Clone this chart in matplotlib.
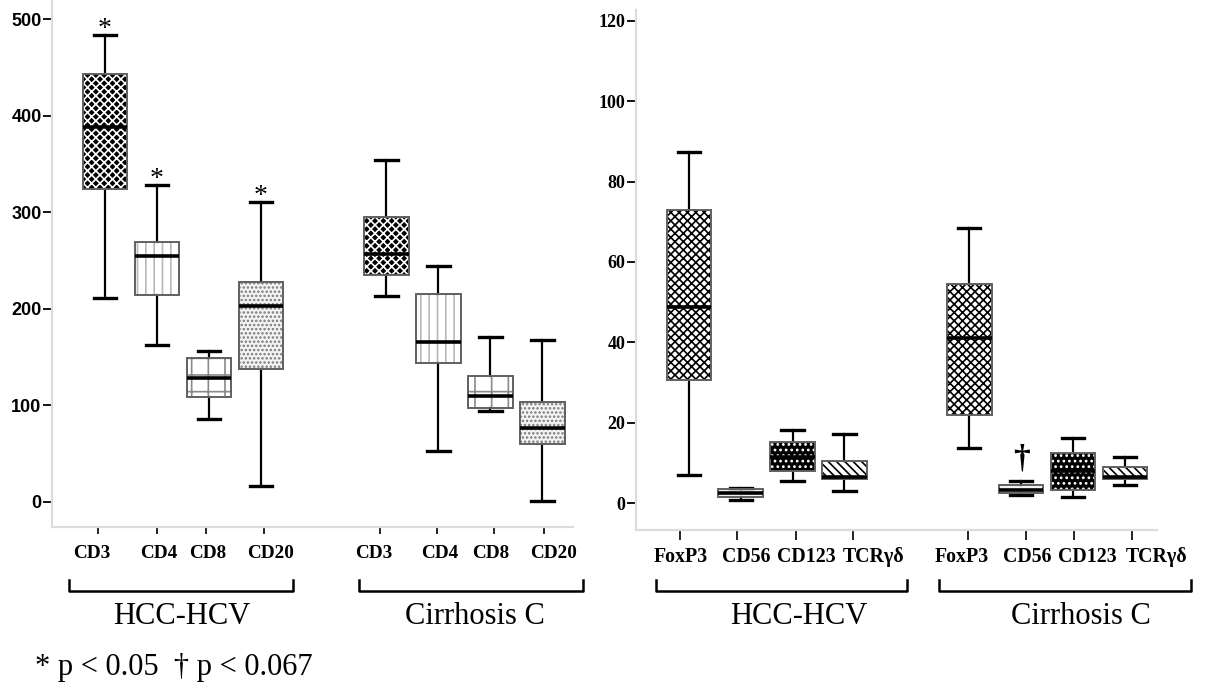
"""Box plots of infiltrating lymphocyte subsets, HCC-HCV vs cirrhosis C."""
import matplotlib
matplotlib.use("Agg")
import matplotlib.pyplot as plt
import matplotlib.transforms as mtransforms
from matplotlib.lines import Line2D
from matplotlib.patches import PathPatch

GROUPS = ["HCC-HCV", "Cirrhosis C"]

# ---- left panel: CD3 / CD4 / CD8 / CD20 ----
LEFT_MARKERS = ["CD3", "CD4", "CD8", "CD20"]
LEFT_HCC_LO = [211, 163, 86, 16]
LEFT_HCC_Q1 = [324, 214, 109, 138]
LEFT_HCC_MED = [388, 255, 128, 203]
LEFT_HCC_Q3 = [443, 269, 149, 228]
LEFT_HCC_HI = [484, 328, 156, 311]
LEFT_CIR_LO = [213, 53, 94, 1]
LEFT_CIR_Q1 = [235, 144, 97, 60]
LEFT_CIR_MED = [257, 166, 110, 77]
LEFT_CIR_Q3 = [295, 215, 130, 104]
LEFT_CIR_HI = [354, 244, 171, 168]
LEFT_HCC_SIG = ["*", "*", "", "*"]
LEFT_CIR_SIG = ["", "", "", ""]

# ---- right panel: FoxP3 / CD56 / CD123 / TCRgd ----
RIGHT_MARKERS = ["FoxP3", "CD56", "CD123", "TCRγδ"]
RIGHT_HCC_LO = [7.1, 0.8, 5.5, 3.0]
RIGHT_HCC_Q1 = [30.6, 1.4, 7.9, 6.1]
RIGHT_HCC_MED = [48.8, 2.4, 11.5, 6.4]
RIGHT_HCC_Q3 = [72.9, 3.5, 15.2, 10.5]
RIGHT_HCC_HI = [87.4, 3.7, 18.3, 17.1]
RIGHT_CIR_LO = [13.6, 1.9, 1.4, 4.4]
RIGHT_CIR_Q1 = [21.9, 2.4, 3.2, 6.1]
RIGHT_CIR_MED = [41.2, 3.2, 8.0, 6.5]
RIGHT_CIR_Q3 = [54.4, 4.5, 12.4, 9.0]
RIGHT_CIR_HI = [68.5, 5.5, 16.1, 11.4]
RIGHT_HCC_SIG = ["", "", "", ""]
RIGHT_CIR_SIG = ["", "†", "", ""]

FOOTNOTE = "* p < 0.05  † p < 0.067"

# fill styles per marker (face, hatch, hatch colour)
LEFT_FILLS = [("black", "xxxx", "white"), ("white", "||", "#b8b8b8"),
              ("white", "+", "#8a8a8a"), ("#f4f4f4", "....", "#7a7a7a")]
RIGHT_FILLS = [("white", "xxxx", "black"), ("#f2f2f2", "", "#f2f2f2"),
               ("black", "...", "white"), ("white", "\\\\\\\\", "black")]

SERIF = ["Liberation Serif", "DejaVu Serif"]
POS_A = [0, 1, 2, 3]
POS_B = [5.41, 6.41, 7.41, 8.41]


def stats(lo, q1, med, q3, hi):
    return [dict(whislo=a, q1=b, med=c, q3=d, whishi=e, fliers=[])
            for a, b, c, d, e in zip(lo, q1, med, q3, hi)]


def draw_group(ax, st, pos, fills, sig, sig_off, sig_size):
    bp = ax.bxp(st, positions=pos, widths=0.86, patch_artist=True,
                showfliers=False, manage_ticks=False,
                whiskerprops=dict(color="black", lw=1.6),
                capprops=dict(color="black", lw=2.4),
                medianprops=dict(color="black", lw=2.6, solid_capstyle="butt"))
    for box, (face, hatch, hcol) in zip(bp["boxes"], fills):
        box.set_facecolor(face)
        box.set_edgecolor(hcol)
        box.set_linewidth(0)
        if hatch:
            box.set_hatch(hatch)
            if hasattr(box, "set_hatch_linewidth"):
                box.set_hatch_linewidth(1.2)
        ax.add_patch(PathPatch(box.get_path(), fill=False, edgecolor="#606060",
                               lw=1.4, zorder=box.get_zorder() + 0.1))
    for med in bp["medians"]:
        med.set_zorder(3)
    for p, s, hi in zip(pos, sig, [d["whishi"] for d in st]):
        if s:
            ax.annotate(s, (p, hi), xytext=(0, sig_off), textcoords="offset points",
                        ha="center", va="center", fontsize=sig_size, family=SERIF,
                        fontweight="bold" if s == "†" else "normal")


def style_axes(ax, ticks, label_pos, labels, xfs, ylim, yticks, yfont, tick_len, pad):
    for side in ("top", "right"):
        ax.spines[side].set_visible(False)
    for side in ("left", "bottom"):
        ax.spines[side].set_color("#dcdcdc")
        ax.spines[side].set_linewidth(1.6)
    ax.set_ylim(*ylim)
    ax.set_yticks(yticks)
    # tick marks and their labels sit at slightly different x in the original
    ax.set_xticks(ticks)
    ax.set_xticklabels([])
    ax.set_xticks(label_pos, minor=True)
    ax.set_xticklabels(labels, minor=True, family=SERIF, fontweight="bold", fontsize=xfs)
    ax.tick_params(axis="x", which="major", length=tick_len, width=1.2, color="black")
    ax.tick_params(axis="x", which="minor", length=0, pad=pad)
    ax.tick_params(axis="y", length=6.5, width=1.3, color="black", pad=1)
    for t in ax.get_yticklabels():
        t.set_family(yfont)
        t.set_fontweight("bold")
        t.set_fontsize(13)


def brackets(fig, ax, spans, label_x):
    tr = mtransforms.blended_transform_factory(ax.transData, fig.transFigure)
    y0, y1 = 1 - 591 / 689, 1 - 580 / 689
    for (a, b), lx, name in zip(spans, label_x, GROUPS):
        ax.add_line(Line2D([a, a, b, b], [y1, y0, y0, y1], transform=tr,
                           color="black", lw=1.8, clip_on=False))
        ax.text(lx, 1 - 617 / 689, name, transform=tr, ha="center", va="center",
                fontsize=22, family=SERIF, clip_on=False)


fig = plt.figure(figsize=(12.05, 6.89), dpi=100)
ax_l = fig.add_axes([52 / 1205, 162 / 689, 521 / 1205, 527 / 689])
ax_r = fig.add_axes([636 / 1205, 159 / 689, 521 / 1205, 520 / 689])

# left panel
draw_group(ax_l, stats(LEFT_HCC_LO, LEFT_HCC_Q1, LEFT_HCC_MED, LEFT_HCC_Q3, LEFT_HCC_HI),
           POS_A, LEFT_FILLS, LEFT_HCC_SIG, 4, 20)
draw_group(ax_l, stats(LEFT_CIR_LO, LEFT_CIR_Q1, LEFT_CIR_MED, LEFT_CIR_Q3, LEFT_CIR_HI),
           POS_B, LEFT_FILLS, LEFT_CIR_SIG, 4, 20)
ax_l.set_xlim(-1.02, 9.0)
style_axes(ax_l, [-0.14, 1.0, 1.94, 3.05, 5.28, 6.39, 7.49, 8.44],
           [-0.26, 1.04, 1.98, 3.19, 5.16, 6.44, 7.41, 8.62],
           LEFT_MARKERS * 2, 13.8, (-26, 520), [0, 100, 200, 300, 400, 500],
           ["Liberation Sans", "DejaVu Sans"], 5, 13)
brackets(fig, ax_l, [(-0.69, 3.62), (4.88, 9.19)], [1.48, 7.12])

# right panel
draw_group(ax_r, stats(RIGHT_HCC_LO, RIGHT_HCC_Q1, RIGHT_HCC_MED, RIGHT_HCC_Q3, RIGHT_HCC_HI),
           POS_A, RIGHT_FILLS, RIGHT_HCC_SIG, 16, 24)
draw_group(ax_r, stats(RIGHT_CIR_LO, RIGHT_CIR_Q1, RIGHT_CIR_MED, RIGHT_CIR_Q3, RIGHT_CIR_HI),
           POS_B, RIGHT_FILLS, RIGHT_CIR_SIG, 16, 24)
ax_r.set_xlim(-1.02, 8.94)
style_axes(ax_r, [-0.17, 0.93, 2.06, 3.17, 5.39, 6.50, 7.43, 8.54],
           [-0.15, 1.10, 2.26, 3.57, 5.27, 6.52, 7.68, 9.03],
           RIGHT_MARKERS * 2, 14.3, (-6.7, 122.7), [0, 20, 40, 60, 80, 100, 120],
           SERIF, 7, 12)
brackets(fig, ax_r, [(-0.64, 4.21), (4.83, 9.68)], [2.12, 7.57])

fig.text(35 / 1205, 1 - 668 / 689, FOOTNOTE, ha="left", va="center",
         fontsize=22, family=SERIF)

fig.savefig("out.png", dpi=100)
